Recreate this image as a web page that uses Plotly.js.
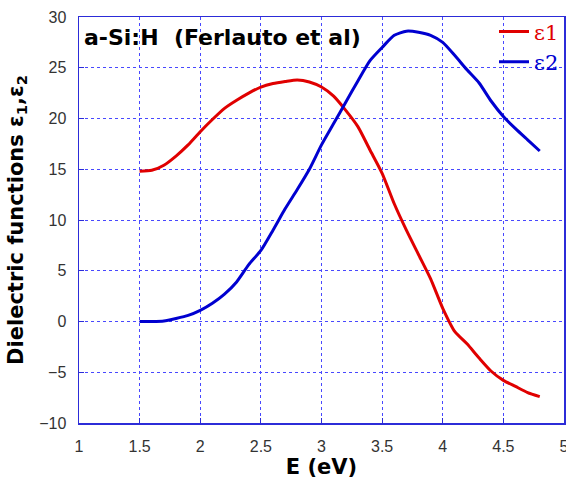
<!DOCTYPE html>
<html>
<head>
<meta charset="utf-8">
<script src="https://cdn.plot.ly/plotly-3.0.1.min.js"></script>
<style>
  html, body { margin: 0; padding: 0; background: #fff; }
  #chart { width: 566px; height: 483px; }
</style>
</head>
<body>
<div id="chart"></div>
<script>
// Photon energy (eV)
const energy = [1.5, 1.6, 1.7, 1.8, 1.9, 2.0, 2.1, 2.2, 2.3, 2.4, 2.5, 2.6, 2.7, 2.8, 2.9, 3.0, 3.1,
                3.2, 3.3, 3.4, 3.5, 3.6, 3.7, 3.8, 3.9, 4.0, 4.1, 4.2, 4.3, 4.4, 4.5, 4.6, 4.7, 4.8];

// Real part of the dielectric function, eps1
const eps1 = [14.8, 14.9, 15.4, 16.3, 17.4, 18.7, 19.9, 21.0, 21.8, 22.5, 23.1, 23.45, 23.65, 23.8, 23.6, 23.1, 22.2,
              20.8, 19.2, 16.9, 14.6, 11.6, 9.0, 6.6, 4.2, 1.3, -1.0, -2.2, -3.6, -4.9, -5.8, -6.4, -7.0, -7.4];

// Imaginary part of the dielectric function, eps2
const eps2 = [0, 0, 0.05, 0.3, 0.6, 1.1, 1.8, 2.7, 3.9, 5.6, 7.0, 9.0, 11.1, 13.0, 15.0, 17.4, 19.5,
              21.6, 23.7, 25.7, 27.0, 28.2, 28.6, 28.5, 28.2, 27.5, 26.2, 24.8, 23.5, 21.7, 20.2, 19.0, 17.9, 16.8];

const xTicks = [1, 1.5, 2, 2.5, 3, 3.5, 4, 4.5, 5];
const yTicks = [-10, -5, 0, 5, 10, 15, 20, 25, 30];

const RED = '#e00000';
const BLUE = '#0000d0';
const GRID = '#4848ff';
const FRAME = '#2c2cd8';
const BOLD_FONT = 'DejaVu Sans, Verdana, sans-serif';

const traces = [
  {
    x: energy, y: eps1, type: 'scatter', mode: 'lines',
    name: '<span style="color:' + RED + '">ε1</span>',
    line: { color: RED, width: 3, shape: 'spline', smoothing: 0.6 }
  },
  {
    x: energy, y: eps2, type: 'scatter', mode: 'lines',
    name: '<span style="color:' + BLUE + '">ε2</span>',
    line: { color: BLUE, width: 3, shape: 'spline', smoothing: 0.6 }
  }
];

const axisCommon = {
  showgrid: true,
  gridcolor: GRID,
  griddash: 'dot',
  gridwidth: 1,
  zeroline: false,
  showline: true,
  mirror: true,
  linecolor: FRAME,
  linewidth: 1.5,
  ticks: 'inside',
  ticklen: 5,
  tickcolor: FRAME,
  tickfont: { family: 'Liberation Sans, Arial, sans-serif', size: 16, color: '#333' },
  ticklabelstandoff: 8,
  ticklabeloverflow: 'allow'
};

const layout = {
  width: 566,
  height: 483,
  margin: { l: 79, r: 2, t: 17, b: 60 },
  paper_bgcolor: '#fff',
  plot_bgcolor: '#fff',
  showlegend: true,
  legend: {
    x: 1, xanchor: 'right', y: 1.014, yanchor: 'top',
    bgcolor: 'rgba(0,0,0,0)',
    font: { family: 'DejaVu Serif, Liberation Serif, serif', size: 21 },
    tracegroupgap: 0,
    itemwidth: 30
  },
  xaxis: Object.assign({}, axisCommon, {
    range: [1, 5],
    tickvals: xTicks,
    title: {
      text: 'E (eV)',
      font: { family: BOLD_FONT, size: 21, color: '#000', weight: 'bold' },
      standoff: 2
    }
  }),
  yaxis: Object.assign({}, axisCommon, {
    range: [-10, 30],
    tickvals: yTicks,
    title: {
      text: 'Dielectric functions ε<sub>1</sub>,ε<sub>2</sub>',
      font: { family: BOLD_FONT, size: 21, color: '#000', weight: 'bold' },
      standoff: 10
    }
  }),
  annotations: [
    {
      xref: 'paper', yref: 'paper', x: 0.006, y: 0.985,
      xanchor: 'left', yanchor: 'top', showarrow: false,
      text: '<b>a-Si:H&nbsp;&nbsp;(Ferlauto et al)</b>',
      font: { family: BOLD_FONT, size: 22, color: '#000' }
    }
  ]
};

Plotly.newPlot('chart', traces, layout, { displayModeBar: false, staticPlot: true });
</script>
</body>
</html>
